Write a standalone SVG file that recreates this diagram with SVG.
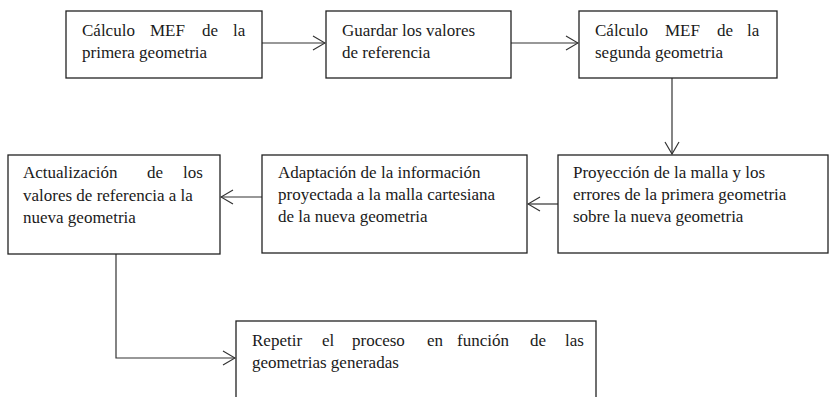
<svg xmlns="http://www.w3.org/2000/svg" width="829" height="397" viewBox="0 0 829 397">
<style>
.box{fill:#fff;stroke:#222;stroke-width:1.3}
.c{fill:none;stroke:#333;stroke-width:1.2}
</style>
<defs>
<marker id="ah" viewBox="0 0 14 16" refX="13" refY="8" markerWidth="14" markerHeight="16" markerUnits="userSpaceOnUse" orient="auto">
<path d="M1,1 L13,8 L1,15" fill="none" stroke="#333" stroke-width="1.2"/>
</marker>
</defs>
<rect width="829" height="397" fill="#fff"/>
<g id="connectors">
<line class="c" x1="262" y1="43" x2="325" y2="43" marker-end="url(#ah)"/>
<line class="c" x1="511" y1="43" x2="578" y2="43" marker-end="url(#ah)"/>
<line class="c" x1="672" y1="78" x2="672" y2="154" marker-end="url(#ah)"/>
<line class="c" x1="558" y1="204" x2="528" y2="204" marker-end="url(#ah)"/>
<line class="c" x1="262" y1="197" x2="221" y2="197" marker-end="url(#ah)"/>
<polyline class="c" points="116,254 116,358 235,358" marker-end="url(#ah)"/>
</g>
<g id="n1">
<rect class="box" x="66" y="11" width="196" height="67"/>
<text font-family="Liberation Serif" font-size="17" fill="#1a1a1a"><tspan x="82" y="36">Cálculo</tspan><tspan x="150" y="36">MEF</tspan><tspan x="202" y="36">de</tspan><tspan x="233" y="36">la</tspan><tspan x="82" y="58">primera geometria</tspan></text>
</g>
<g id="n2">
<rect class="box" x="326" y="11" width="185" height="67"/>
<text font-family="Liberation Serif" font-size="17" fill="#1a1a1a"><tspan x="342" y="36">Guardar los valores</tspan><tspan x="342" y="58">de referencia</tspan></text>
</g>
<g id="n3">
<rect class="box" x="579" y="11" width="198" height="67"/>
<text font-family="Liberation Serif" font-size="17" fill="#1a1a1a"><tspan x="595" y="36">Cálculo</tspan><tspan x="665" y="36">MEF</tspan><tspan x="717" y="36">de</tspan><tspan x="747" y="36">la</tspan><tspan x="595" y="58">segunda geometria</tspan></text>
</g>
<g id="n4">
<rect class="box" x="8" y="155" width="212" height="99"/>
<text font-family="Liberation Serif" font-size="17" fill="#1a1a1a"><tspan x="23" y="178">Actualización</tspan><tspan x="147" y="178">de</tspan><tspan x="183" y="178">los</tspan><tspan x="23" y="201">valores de referencia a la</tspan><tspan x="23" y="223">nueva geometria</tspan></text>
</g>
<g id="n5">
<rect class="box" x="262" y="155" width="265" height="98"/>
<text font-family="Liberation Serif" font-size="17" fill="#1a1a1a"><tspan x="278" y="178">Adaptación de la información</tspan><tspan x="278" y="200">proyectada a la malla cartesiana</tspan><tspan x="278" y="222">de la nueva geometria</tspan></text>
</g>
<g id="n6">
<rect class="box" x="558" y="155" width="270" height="98"/>
<text font-family="Liberation Serif" font-size="17" fill="#1a1a1a"><tspan x="573" y="178">Proyección de la malla y los</tspan><tspan x="573" y="200">errores de la primera geometria</tspan><tspan x="573" y="222">sobre la nueva geometria</tspan></text>
</g>
<g id="n7">
<rect class="box" x="236" y="321" width="360" height="90"/>
<text font-family="Liberation Serif" font-size="17" fill="#1a1a1a"><tspan x="252" y="346">Repetir</tspan><tspan x="322" y="346">el</tspan><tspan x="352" y="346">proceso</tspan><tspan x="427" y="346">en</tspan><tspan x="457" y="346">función</tspan><tspan x="530" y="346">de</tspan><tspan x="565" y="346">las</tspan><tspan x="252" y="368">geometrias generadas</tspan></text>
</g>
</svg>
